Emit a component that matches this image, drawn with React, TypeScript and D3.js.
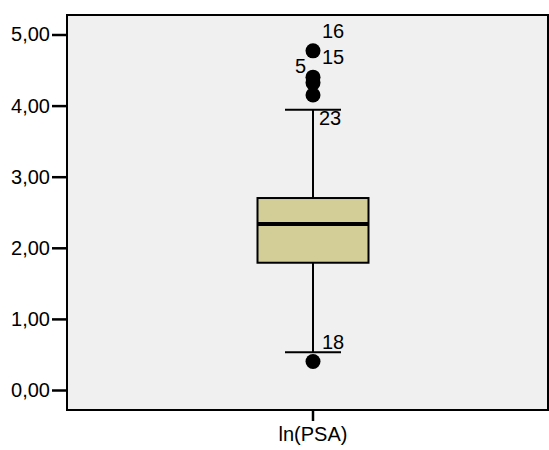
import { useEffect, useRef } from 'react';
import * as d3 from 'd3';

const width = 549;
const height = 450;

// box statistics for ln(PSA)
const category = 'ln(PSA)';
const boxStats = { min: 0.53, q1: 1.79, median: 2.335, q3: 2.7, max: 3.94 };
const outlierValues = [4.77, 4.4, 4.32, 4.15, 0.4];
const outlierCases = ['16', '15', '5', '23', '18'];
const yTicks = [0, 1, 2, 3, 4, 5];

// label placement next to each outlier (dx, dy, anchor)
const labelOffsets: [number, number, string][] = [
  [9, -13, 'start'],
  [9, -13, 'start'],
  [-7, -10, 'end'],
  [6, 30, 'start'],
  [9, -13, 'start'],
];

const App = () => {
  const ref = useRef<SVGSVGElement>(null);

  useEffect(() => {
    const svg = d3.select(ref.current);
    svg.selectAll('*').remove();

    const left = 67;
    const right = 548;
    const top = 15;
    const bottom = 410;

    const y = d3.scaleLinear().domain([0, 5]).range([390, 34.5]);
    // category band is slightly off-centre in the original
    const x = d3.scaleBand().domain([category]).range([left + 11, right]);
    const cx = x(category)! + x.bandwidth() / 2;
    const boxW = 111;
    const capW = 56;

    svg
      .append('rect')
      .attr('x', left)
      .attr('y', top)
      .attr('width', right - left)
      .attr('height', bottom - top)
      .attr('fill', '#f0f0f0')
      .attr('stroke', '#000')
      .attr('stroke-width', 2);

    const font = '"Liberation Sans", Arial, sans-serif';

    const yAxis = svg
      .append('g')
      .attr('transform', `translate(${left - 1},0)`)
      .call(
        d3
          .axisLeft(y)
          .tickValues(yTicks)
          .tickSize(14)
          .tickPadding(2)
          .tickFormat((d) => d3.format('.2f')(d as number).replace('.', ','))
      );
    yAxis.select('.domain').remove();
    yAxis.selectAll('line').attr('stroke-width', 2.5);
    yAxis
      .selectAll('text')
      .attr('font-family', font)
      .attr('font-size', 20)
      .attr('fill', '#000');

    const xAxis = svg
      .append('g')
      .attr('transform', `translate(0,${bottom + 1})`)
      .call(d3.axisBottom(x).tickSize(10).tickPadding(6));
    xAxis.select('.domain').remove();
    xAxis.selectAll('line').attr('stroke-width', 2.5);
    xAxis
      .selectAll('text')
      .attr('font-family', font)
      .attr('font-size', 20)
      .attr('fill', '#000');

    const g = svg.append('g');

    // whiskers
    g.append('line')
      .attr('x1', cx)
      .attr('x2', cx)
      .attr('y1', y(boxStats.max))
      .attr('y2', y(boxStats.min))
      .attr('stroke', '#000')
      .attr('stroke-width', 2);
    [boxStats.min, boxStats.max].forEach((v) => {
      g.append('line')
        .attr('x1', cx - capW / 2)
        .attr('x2', cx + capW / 2)
        .attr('y1', y(v))
        .attr('y2', y(v))
        .attr('stroke', '#000')
        .attr('stroke-width', 2);
    });

    // box
    g.append('rect')
      .attr('x', cx - boxW / 2)
      .attr('y', y(boxStats.q3))
      .attr('width', boxW)
      .attr('height', y(boxStats.q1) - y(boxStats.q3))
      .attr('fill', '#d3ce97')
      .attr('stroke', '#000')
      .attr('stroke-width', 2);
    g.append('line')
      .attr('x1', cx - boxW / 2)
      .attr('x2', cx + boxW / 2)
      .attr('y1', y(boxStats.median))
      .attr('y2', y(boxStats.median))
      .attr('stroke', '#000')
      .attr('stroke-width', 4);

    // outliers
    g.selectAll('circle.out')
      .data(outlierValues)
      .join('circle')
      .attr('cx', cx)
      .attr('cy', (d) => y(d))
      .attr('r', 7.5)
      .attr('fill', '#000');

    g.selectAll('text.lbl')
      .data(outlierValues)
      .join('text')
      .attr('x', (d, i) => cx + labelOffsets[i][0])
      .attr('y', (d, i) => y(d) + labelOffsets[i][1])
      .attr('text-anchor', (d, i) => labelOffsets[i][2])
      .attr('font-family', font)
      .attr('font-size', 20)
      .text((d, i) => outlierCases[i]);
  }, []);

  return (
    <svg
      ref={ref}
      width={width}
      height={height}
      style={{ position: 'absolute', left: 0, top: 0, background: '#fff' }}
    />
  );
};

export default App;
